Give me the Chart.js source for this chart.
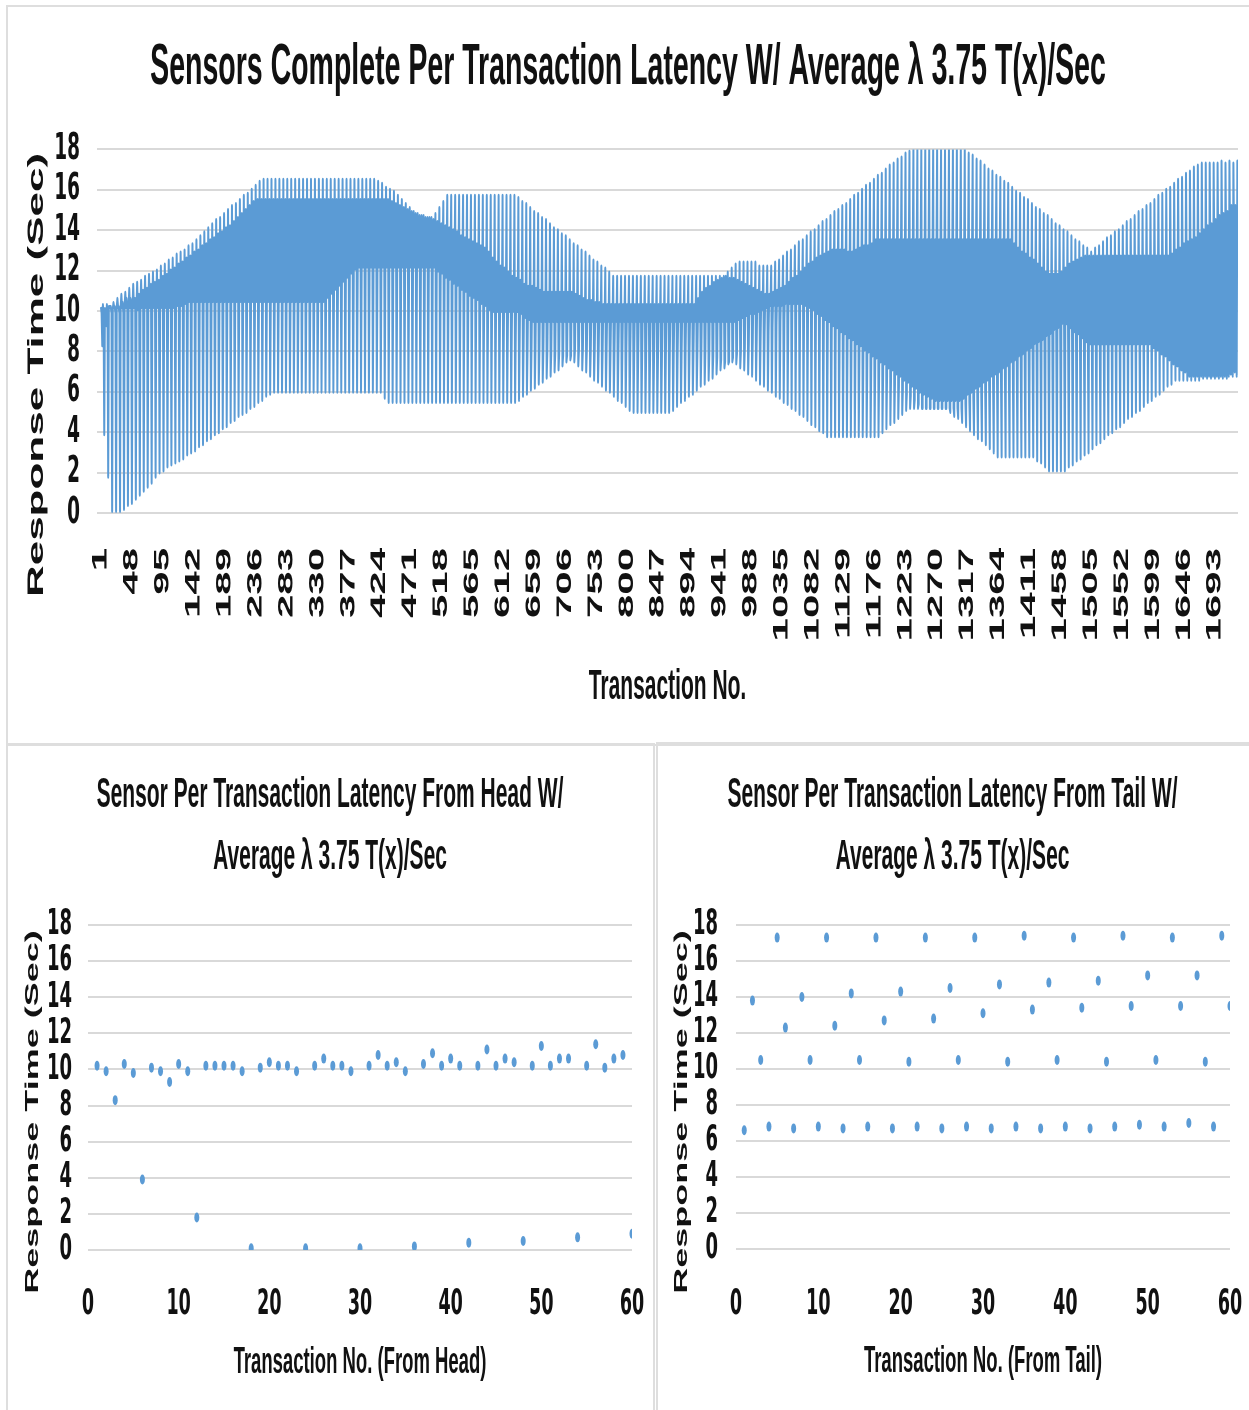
<!DOCTYPE html>
<html>
<head>
<meta charset="utf-8">
<title>Sensor transaction latency</title>
<script src="https://cdn.jsdelivr.net/npm/chart.js@4.4.1/dist/chart.umd.min.js"></script>
<style>
  html, body { margin: 0; padding: 0; background: #fff; overflow: hidden; }
  body { width: 1249px; height: 1410px; position: relative; }
  .frame { position: absolute; border: 2px solid #dedede; box-sizing: border-box; }
  .squeeze { position: absolute; transform: scaleX(0.5); transform-origin: 0 0; }
  canvas { display: block; }
</style>
</head>
<body>

<div class="frame" style="left:6px; top:5px; width:1260px; height:741px;"></div>
<div class="frame" style="left:6px; top:743px; width:649px; height:700px;"></div>
<div class="frame" style="left:656px; top:742px; width:620px; height:700px;"></div>

<div class="squeeze" style="left:7px; top:6px;"><canvas id="allChart" width="2484" height="738"></canvas></div>
<div class="squeeze" style="left:7px; top:744px;"><canvas id="headChart" width="1292" height="666"></canvas></div>
<div class="squeeze" style="left:656px; top:743px;"><canvas id="tailChart" width="1186" height="667"></canvas></div>

<script>
// Transactions come round-robin from six sensor slots, so the big chart
// is read as six per-cycle series (one value per 6 transactions each)

const sensor1 = [
  10.2, 10.1, 10.2, 10.1, 10.2, 10.2, 10.3, 10.2, 10.2, 10.2,
  10.2, 10.2, 10.2, 10.2, 10.2, 10.2, 10.2, 10.2, 10.2, 10.3,
  10.4, 10.4, 10.5, 10.5, 10.5, 10.5, 10.5, 10.5, 10.5, 10.5,
  10.5, 10.5, 10.5, 10.5, 10.5, 10.5, 10.5, 10.5, 10.5, 10.5,
  10.5, 10.5, 10.5, 10.5, 10.5, 10.5, 10.5, 10.5, 10.5, 10.5,
  10.5, 10.5, 10.5, 10.5, 10.5, 10.5, 10.5, 10.7, 10.8, 11.0,
  11.2, 11.3, 11.5, 11.7, 11.8, 12.0, 12.0, 12.0, 12.0, 12.0,
  12.0, 12.0, 12.0, 12.0, 12.0, 12.0, 12.0, 12.0, 12.0, 12.0,
  12.0, 12.0, 12.0, 12.0, 12.0, 11.8, 11.7, 11.5, 11.4, 11.2,
  11.1, 10.9, 10.8, 10.6, 10.4, 10.3, 10.1, 10.0, 9.8, 9.6,
  9.5, 9.3, 9.2, 9.0, 8.9, 8.7, 8.6, 8.4, 8.3, 8.2,
  8.2, 8.1, 8.1, 8.0, 8.0, 7.9, 7.9, 7.8, 7.8, 7.8,
  8.1, 8.1, 8.1, 8.1, 8.1, 8.1, 8.1, 8.1, 8.1, 8.1,
  8.1, 8.1, 8.1, 8.1, 8.1, 8.1, 7.9, 7.8, 7.7, 7.6,
  7.5, 7.5, 7.5, 7.7, 7.9, 8.0, 8.1, 8.1, 8.1, 8.1,
  8.1, 8.1, 8.1, 8.0, 7.9, 7.8, 7.7, 7.6, 7.5, 7.5,
  7.7, 7.9, 8.0, 8.2, 8.4, 8.5, 8.6, 8.8, 8.9, 9.0,
  9.2, 9.3, 9.5, 9.6, 9.8, 10.0, 10.2, 10.4, 10.2, 10.1,
  9.9, 9.8, 9.6, 9.4, 9.3, 9.1, 8.9, 8.8, 8.6, 8.4,
  8.3, 8.1, 7.9, 7.8, 7.6, 7.4, 7.3, 7.1, 6.9, 6.8,
  6.6, 6.4, 6.3, 6.1, 5.9, 5.8, 5.6, 5.4, 5.2, 5.2,
  5.2, 5.2, 5.2, 5.2, 5.2, 5.0, 4.8, 4.7, 4.5, 4.3,
  4.1, 3.9, 3.7, 3.6, 3.4, 3.2, 3.0, 2.8, 2.8, 2.8,
  2.8, 2.8, 2.8, 2.8, 2.8, 2.8, 2.8, 2.6, 2.5, 2.3,
  2.1, 2.1, 2.1, 2.1, 2.1, 2.3, 2.4, 2.6, 2.7, 2.9,
  3.0, 3.2, 3.4, 3.5, 3.7, 3.9, 4.0, 4.2, 4.3, 4.5,
  4.7, 4.8, 5.0, 5.1, 5.3, 5.5, 5.6, 5.8, 5.9, 6.1,
  6.3, 6.4, 6.6, 6.6, 6.6, 6.6, 6.6, 6.6, 6.6, 6.7,
  6.7, 6.7, 6.7, 6.7, 6.7, 6.7, 6.9, 7.0
];

const sensor2 = [
  9.9, 9.9, 10.2, 10.4, 10.6, 10.8, 10.9, 11.1, 11.3, 11.4,
  11.5, 11.7, 11.8, 11.9, 12.0, 12.2, 12.3, 12.5, 12.6, 12.8,
  12.9, 13.0, 13.2, 13.3, 13.5, 13.7, 13.9, 14.1, 14.3, 14.5,
  14.6, 14.8, 15.0, 15.2, 15.3, 15.5, 15.7, 15.8, 16.0, 16.2,
  16.4, 16.5, 16.5, 16.5, 16.5, 16.5, 16.5, 16.5, 16.5, 16.5,
  16.5, 16.5, 16.5, 16.5, 16.5, 16.5, 16.5, 16.5, 16.5, 16.5,
  16.5, 16.5, 16.5, 16.5, 16.5, 16.5, 16.5, 16.5, 16.5, 16.5,
  16.4, 16.3, 16.1, 16.0, 15.9, 15.7, 15.5, 15.3, 15.1, 14.9,
  14.8, 14.7, 14.6, 14.6, 14.5, 14.4, 14.3, 14.2, 14.1, 14.0,
  13.9, 13.7, 13.6, 13.5, 13.4, 13.3, 13.2, 13.1, 12.9, 12.6,
  12.4, 12.2, 12.1, 11.9, 11.7, 11.6, 11.5, 11.3, 11.2, 11.2,
  11.1, 11.0, 10.9, 10.9, 10.9, 10.9, 10.9, 10.9, 10.9, 10.9,
  10.8, 10.7, 10.6, 10.5, 10.5, 10.4, 10.4, 10.3, 10.3, 10.3,
  10.3, 10.3, 10.3, 10.3, 10.3, 10.3, 10.3, 10.3, 10.3, 10.3,
  10.3, 10.3, 10.3, 10.3, 10.3, 10.3, 10.3, 10.3, 10.3, 10.3,
  10.3, 10.6, 10.9, 11.1, 11.2, 11.4, 11.5, 11.6, 11.7, 11.6,
  11.6, 11.5, 11.4, 11.3, 11.2, 11.1, 11.0, 10.9, 10.8, 10.8,
  10.9, 11.0, 11.1, 11.2, 11.4, 11.6, 11.7, 11.9, 12.1, 12.3,
  12.4, 12.6, 12.7, 12.8, 12.9, 13.0, 13.0, 13.0, 13.0, 12.9,
  12.9, 13.0, 13.1, 13.2, 13.2, 13.3, 13.5, 13.5, 13.5, 13.5,
  13.5, 13.5, 13.5, 13.5, 13.5, 13.5, 13.5, 13.5, 13.5, 13.5,
  13.5, 13.5, 13.5, 13.5, 13.5, 13.5, 13.5, 13.5, 13.5, 13.5,
  13.5, 13.5, 13.5, 13.5, 13.5, 13.5, 13.5, 13.5, 13.5, 13.5,
  13.5, 13.3, 13.1, 12.9, 12.8, 12.6, 12.5, 12.3, 12.1, 11.9,
  11.8, 11.8, 11.8, 11.9, 12.1, 12.3, 12.4, 12.5, 12.6, 12.7,
  12.7, 12.7, 12.7, 12.7, 12.7, 12.7, 12.7, 12.7, 12.7, 12.7,
  12.7, 12.7, 12.7, 12.7, 12.7, 12.7, 12.7, 12.7, 12.7, 12.7,
  12.7, 12.8, 13.0, 13.1, 13.3, 13.4, 13.5, 13.6, 13.8, 14.0,
  14.2, 14.3, 14.5, 14.7, 14.8, 14.9, 15.2, 15.2
];

const sensor3 = [
  8.3, 9.3, 10.2, 10.2, 10.2, 10.2, 10.2, 10.2, 10.2, 10.1,
  10.2, 10.2, 10.2, 10.2, 10.2, 10.2, 10.2, 10.2, 10.2, 10.3,
  10.3, 10.4, 10.5, 10.5, 10.5, 10.5, 10.5, 10.5, 10.5, 10.5,
  10.5, 10.5, 10.5, 10.5, 10.5, 10.5, 10.5, 10.5, 10.5, 10.5,
  10.5, 10.5, 10.5, 10.5, 10.5, 10.5, 10.5, 10.5, 10.5, 10.5,
  10.5, 10.5, 10.5, 10.5, 10.5, 10.5, 10.5, 10.7, 10.9, 11.1,
  11.3, 11.5, 11.7, 11.9, 12.1, 12.2, 12.2, 12.2, 12.2, 12.2,
  12.2, 12.2, 12.2, 12.2, 12.2, 12.2, 12.2, 12.2, 12.2, 12.2,
  12.2, 12.2, 12.2, 12.2, 12.2, 12.0, 11.9, 11.7, 11.6, 11.4,
  11.3, 11.1, 11.0, 10.8, 10.7, 10.6, 10.4, 10.3, 10.1, 10.0,
  10.0, 10.0, 10.0, 10.0, 10.0, 10.0, 10.0, 10.0, 10.0, 10.0,
  10.0, 10.0, 10.0, 10.0, 10.0, 10.0, 10.0, 10.0, 10.0, 10.0,
  10.0, 10.0, 10.0, 10.0, 10.0, 10.0, 10.0, 10.0, 10.0, 10.0,
  10.0, 10.0, 10.0, 10.0, 10.0, 10.0, 10.0, 10.0, 10.0, 10.0,
  10.0, 10.0, 10.0, 10.0, 10.0, 10.0, 10.0, 10.0, 10.0, 10.0,
  10.0, 10.0, 10.0, 10.0, 10.0, 10.0, 10.0, 10.0, 10.0, 10.0,
  10.0, 10.0, 10.0, 10.1, 10.1, 10.1, 10.2, 10.2, 10.2, 10.3,
  10.3, 10.3, 10.3, 10.4, 10.4, 10.4, 10.4, 10.4, 10.3, 10.2,
  10.1, 9.9, 9.8, 9.6, 9.5, 9.3, 9.2, 9.0, 8.9, 8.7,
  8.6, 8.4, 8.3, 8.1, 8.0, 7.8, 7.7, 7.5, 7.4, 7.2,
  7.1, 6.9, 6.8, 6.6, 6.5, 6.3, 6.2, 6.0, 5.9, 5.8,
  5.7, 5.6, 5.6, 5.6, 5.6, 5.6, 5.6, 5.6, 5.7, 5.9,
  6.0, 6.2, 6.3, 6.5, 6.6, 6.8, 6.9, 7.0, 7.2, 7.3,
  7.5, 7.6, 7.8, 7.9, 8.1, 8.2, 8.4, 8.5, 8.6, 8.8,
  8.9, 9.1, 9.2, 9.4, 9.5, 9.7, 9.8, 10.0, 10.1, 10.3,
  10.4, 10.4, 10.4, 10.4, 10.4, 10.4, 10.4, 10.4, 10.4, 10.4,
  10.4, 10.4, 10.4, 10.4, 10.4, 10.4, 10.4, 10.4, 10.4, 10.4,
  10.4, 10.4, 10.4, 10.4, 10.4, 10.4, 10.4, 10.4, 10.5, 10.5,
  10.5, 10.4, 10.5, 10.4, 10.5, 10.4, 10.5, 10.4
];

const sensor4 = [
  10.3, 10.3, 10.2, 10.2, 10.2, 10.4, 10.6, 10.6, 10.6, 10.6,
  10.7, 10.8, 10.9, 11.0, 11.1, 11.2, 11.3, 11.4, 11.5, 11.6,
  11.7, 11.8, 11.9, 12.0, 12.1, 12.2, 12.3, 12.4, 12.5, 12.6,
  12.7, 12.8, 12.9, 13.0, 13.1, 13.2, 13.3, 13.3, 13.3, 13.3,
  13.3, 13.3, 13.3, 13.3, 13.3, 13.3, 13.3, 13.3, 13.3, 13.3,
  13.3, 13.3, 13.3, 13.3, 13.3, 13.3, 13.3, 13.3, 13.3, 13.3,
  13.3, 13.3, 13.3, 13.3, 13.3, 13.3, 13.3, 13.3, 13.3, 13.3,
  13.3, 13.3, 13.3, 13.3, 13.3, 13.3, 13.3, 13.3, 13.3, 13.3,
  13.3, 13.3, 13.3, 13.3, 13.3, 13.1, 13.0, 12.8, 12.7, 12.5,
  12.4, 12.2, 12.0, 11.9, 11.7, 11.6, 11.4, 11.3, 11.1, 10.9,
  10.8, 10.6, 10.5, 10.3, 10.2, 10.0, 9.9, 9.7, 9.6, 9.5,
  9.5, 9.5, 9.5, 9.5, 9.5, 9.5, 9.5, 9.5, 9.5, 9.5,
  9.5, 9.5, 9.5, 9.5, 9.5, 9.5, 9.5, 9.5, 9.5, 9.5,
  9.5, 9.5, 9.5, 9.5, 9.5, 9.5, 9.5, 9.5, 9.5, 9.5,
  9.5, 9.5, 9.5, 9.5, 9.5, 9.5, 9.5, 9.5, 9.5, 9.5,
  9.5, 9.5, 9.5, 9.5, 9.5, 9.5, 9.5, 9.5, 9.5, 9.5,
  9.5, 9.6, 9.7, 9.8, 9.9, 9.9, 10.0, 10.1, 10.2, 10.3,
  10.4, 10.5, 10.6, 10.7, 10.8, 10.8, 10.9, 11.0, 11.1, 11.2,
  11.3, 11.4, 11.4, 11.5, 11.6, 11.7, 11.8, 11.9, 12.0, 12.0,
  12.1, 12.2, 12.3, 12.4, 12.5, 12.5, 12.6, 12.7, 12.8, 12.8,
  12.8, 12.8, 12.8, 12.8, 12.8, 12.8, 12.8, 12.8, 12.8, 12.8,
  12.8, 12.8, 12.8, 12.8, 12.8, 12.8, 12.8, 12.8, 12.8, 12.8,
  12.8, 12.8, 12.8, 12.8, 12.8, 12.8, 12.6, 12.4, 12.3, 12.1,
  11.9, 11.7, 11.6, 11.4, 11.2, 11.0, 10.8, 10.7, 10.5, 10.3,
  10.1, 9.9, 9.8, 9.6, 9.4, 9.2, 9.0, 8.9, 8.7, 8.5,
  8.4, 8.4, 8.4, 8.4, 8.4, 8.4, 8.4, 8.4, 8.4, 8.4,
  8.4, 8.4, 8.4, 8.4, 8.4, 8.4, 8.2, 8.1, 7.9, 7.8,
  7.6, 7.4, 7.3, 7.1, 7.0, 6.8, 6.8, 6.8, 6.8, 6.8,
  6.8, 6.8, 6.8, 6.8, 6.8, 6.8, 6.8, 6.8
];

const sensor5 = [
  9.8, 9.9, 9.9, 9.9, 9.9, 9.9, 10.2, 10.4, 10.6, 10.8,
  11.0, 11.1, 11.3, 11.4, 11.5, 11.7, 11.8, 12.0, 12.1, 12.3,
  12.4, 12.6, 12.7, 12.9, 13.0, 13.2, 13.3, 13.5, 13.6, 13.8,
  13.9, 14.1, 14.2, 14.4, 14.6, 14.8, 15.0, 15.2, 15.4, 15.5,
  15.5, 15.5, 15.5, 15.5, 15.5, 15.5, 15.5, 15.5, 15.5, 15.5,
  15.5, 15.5, 15.5, 15.5, 15.5, 15.5, 15.5, 15.5, 15.5, 15.5,
  15.5, 15.5, 15.5, 15.5, 15.5, 15.5, 15.5, 15.5, 15.5, 15.5,
  15.5, 15.5, 15.5, 15.4, 15.3, 15.2, 15.1, 15.0, 14.9, 14.8,
  14.7, 14.7, 14.6, 14.6, 14.8, 15.1, 15.4, 15.7, 15.7, 15.7,
  15.7, 15.7, 15.7, 15.7, 15.7, 15.7, 15.7, 15.7, 15.7, 15.7,
  15.7, 15.7, 15.7, 15.7, 15.7, 15.6, 15.4, 15.3, 15.1, 14.9,
  14.8, 14.6, 14.5, 14.3, 14.1, 14.0, 13.8, 13.7, 13.5, 13.3,
  13.2, 13.0, 12.9, 12.7, 12.5, 12.4, 12.2, 12.1, 11.9, 11.7,
  11.7, 11.7, 11.7, 11.7, 11.7, 11.7, 11.7, 11.7, 11.7, 11.7,
  11.7, 11.7, 11.7, 11.7, 11.7, 11.7, 11.7, 11.7, 11.7, 11.7,
  11.7, 11.7, 11.7, 11.7, 11.7, 11.7, 11.7, 11.7, 11.9, 12.1,
  12.3, 12.4, 12.4, 12.4, 12.4, 12.4, 12.2, 12.2, 12.2, 12.2,
  12.4, 12.5, 12.7, 12.9, 13.0, 13.2, 13.4, 13.5, 13.7, 13.9,
  14.0, 14.2, 14.4, 14.5, 14.7, 14.9, 15.0, 15.2, 15.3, 15.5,
  15.7, 15.8, 16.0, 16.2, 16.3, 16.5, 16.7, 16.8, 17.0, 17.2,
  17.3, 17.5, 17.6, 17.8, 17.9, 18.0, 18.0, 18.0, 18.0, 18.0,
  18.0, 18.0, 18.0, 18.0, 18.0, 18.0, 18.0, 18.0, 18.0, 17.8,
  17.7, 17.5, 17.4, 17.2, 17.0, 16.9, 16.7, 16.6, 16.4, 16.3,
  16.1, 15.9, 15.8, 15.6, 15.5, 15.3, 15.1, 15.0, 14.8, 14.7,
  14.5, 14.3, 14.2, 14.0, 13.9, 13.7, 13.5, 13.4, 13.2, 13.1,
  12.9, 13.1, 13.2, 13.4, 13.6, 13.7, 13.9, 14.0, 14.2, 14.4,
  14.5, 14.7, 14.9, 15.0, 15.2, 15.3, 15.5, 15.7, 15.8, 16.0,
  16.1, 16.3, 16.5, 16.6, 16.8, 16.9, 17.1, 17.2, 17.3, 17.3,
  17.3, 17.3, 17.3, 17.4, 17.3, 17.4, 17.3, 17.4
];

const sensor6 = [
  3.9, 1.8, 0.1, 0.1, 0.1, 0.2, 0.4, 0.5, 0.7, 0.9,
  1.1, 1.3, 1.5, 1.8, 2.0, 2.1, 2.3, 2.4, 2.5, 2.6,
  2.7, 2.9, 3.0, 3.1, 3.3, 3.4, 3.6, 3.7, 3.9, 4.0,
  4.2, 4.3, 4.5, 4.6, 4.8, 4.9, 5.0, 5.2, 5.3, 5.5,
  5.6, 5.8, 5.9, 6.0, 6.0, 6.0, 6.0, 6.0, 6.0, 6.0,
  6.0, 6.0, 6.0, 6.0, 6.0, 6.0, 6.0, 6.0, 6.0, 6.0,
  6.0, 6.0, 6.0, 6.0, 6.0, 6.0, 6.0, 6.0, 6.0, 6.0,
  6.0, 5.7, 5.5, 5.5, 5.5, 5.5, 5.5, 5.5, 5.5, 5.5,
  5.5, 5.5, 5.5, 5.5, 5.5, 5.5, 5.5, 5.5, 5.5, 5.5,
  5.5, 5.5, 5.5, 5.5, 5.5, 5.5, 5.5, 5.5, 5.5, 5.5,
  5.5, 5.5, 5.5, 5.5, 5.5, 5.6, 5.8, 5.9, 6.1, 6.2,
  6.4, 6.5, 6.7, 6.8, 7.0, 7.1, 7.3, 7.5, 7.6, 7.5,
  7.3, 7.1, 7.0, 6.8, 6.6, 6.5, 6.3, 6.1, 6.0, 5.8,
  5.6, 5.5, 5.3, 5.1, 5.0, 5.0, 5.0, 5.0, 5.0, 5.0,
  5.0, 5.0, 5.0, 5.0, 5.1, 5.3, 5.5, 5.6, 5.8, 5.9,
  6.1, 6.3, 6.4, 6.6, 6.7, 6.9, 7.1, 7.2, 7.4, 7.5,
  7.4, 7.2, 7.1, 6.9, 6.8, 6.6, 6.4, 6.3, 6.1, 6.0,
  5.8, 5.7, 5.5, 5.4, 5.2, 5.1, 4.9, 4.8, 4.6, 4.4,
  4.3, 4.1, 4.0, 3.8, 3.8, 3.8, 3.8, 3.8, 3.8, 3.8,
  3.8, 3.8, 3.8, 3.8, 3.8, 3.8, 3.8, 4.0, 4.2, 4.4,
  4.5, 4.7, 4.9, 5.1, 5.2, 5.2, 5.2, 5.2, 5.2, 5.2,
  5.2, 5.2, 5.2, 5.2, 5.2, 5.2, 5.2, 5.2, 5.4, 5.5,
  5.7, 5.8, 6.0, 6.1, 6.3, 6.4, 6.6, 6.7, 6.9, 7.0,
  7.2, 7.3, 7.5, 7.6, 7.8, 7.9, 8.1, 8.2, 8.4, 8.4,
  8.4, 8.4, 8.4, 8.4, 8.4, 8.4, 8.4, 8.4, 8.4, 8.4,
  8.4, 8.5, 8.7, 8.8, 9.0, 9.2, 9.3, 9.5, 9.6, 9.8,
  10.0, 10.1, 10.3, 10.4, 10.6, 10.8, 10.9, 11.1, 11.2, 11.4,
  11.6, 11.7, 11.9, 12.0, 12.2, 12.2, 12.2, 12.2, 12.3, 12.4,
  12.7, 12.8, 13.1, 13.3, 13.4, 13.5, 13.5, 13.5
];

// first 60 and last 60 transactions
const headLatency = [
  10.2, 9.9, 8.3, 10.3, 9.8, 3.9, 10.1, 9.9, 9.3, 10.3, 9.9, 1.8,
  10.2, 10.2, 10.2, 10.2, 9.9, 0.1, 10.1, 10.4, 10.2, 10.2, 9.9, 0.1,
  10.2, 10.6, 10.2, 10.2, 9.9, 0.1, 10.2, 10.8, 10.2, 10.4, 9.9, 0.2,
  10.3, 10.9, 10.2, 10.6, 10.2, 0.4, 10.2, 11.1, 10.2, 10.6, 10.4, 0.5,
  10.2, 11.3, 10.2, 10.6, 10.6, 0.7, 10.2, 11.4, 10.1, 10.6, 10.8, 0.9
];

const tailLatency = [
  6.6, 13.8, 10.5, 6.8, 17.3, 12.3, 6.7, 14.0, 10.5, 6.8, 17.3, 12.4,
  6.7, 14.2, 10.5, 6.8, 17.3, 12.7, 6.7, 14.3, 10.4, 6.8, 17.3, 12.8,
  6.7, 14.5, 10.5, 6.8, 17.3, 13.1, 6.7, 14.7, 10.4, 6.8, 17.4, 13.3,
  6.7, 14.8, 10.5, 6.8, 17.3, 13.4, 6.7, 14.9, 10.4, 6.8, 17.4, 13.5,
  6.9, 15.2, 10.5, 6.8, 17.3, 13.5, 7.0, 15.2, 10.4, 6.8, 17.4, 13.5
];

// tick labels
const txTicks = [1, 48, 95, 142, 189, 236, 283, 330, 377, 424, 471, 518, 565,
  612, 659, 706, 753, 800, 847, 894, 941, 988, 1035, 1082, 1129, 1176, 1223,
  1270, 1317, 1364, 1411, 1458, 1505, 1552, 1599, 1646, 1693];
const latencyTicks = [0, 2, 4, 6, 8, 10, 12, 14, 16, 18];
const sideTicks = [0, 10, 20, 30, 40, 50, 60];


const BLUE = '#5b9bd5';
const GRID = '#d9d9d9';
const INK = '#111';
const SANS = '"Liberation Sans", Arial, sans-serif';
const DEJAVU = '"DejaVu Sans", sans-serif';

Chart.defaults.font.family = SANS;
Chart.defaults.color = INK;
Chart.defaults.animation = false;

// rotated y axis title, placed where Excel puts it
const sideTitle = {
  id: 'sideTitle',
  afterDraw(chart, args, opts) {
    const ctx = chart.ctx;
    ctx.save();
    ctx.translate(opts.x, opts.y);
    ctx.rotate(-Math.PI / 2);
    ctx.font = opts.font;
    ctx.fillStyle = INK;
    ctx.textAlign = 'center';
    ctx.textBaseline = 'middle';
    ctx.fillText(opts.text, 0, 0);
    ctx.restore();
  }
};

const useTicks = list => scale => { scale.ticks = list.map(v => ({ value: v })); };
const bottomAxis = h => scale => {
  scale.height = h;
  scale.paddingLeft = 0;
  scale.paddingRight = 0;
};


// Interleave the six slots back into transaction order

const slots = [sensor1, sensor2, sensor3, sensor4, sensor5, sensor6];
const allSeries = [];
sensor1.forEach((_, cycle) => {
  slots.forEach((slot, k) => {
    allSeries.push({ x: cycle * 6 + k + 1, y: slot[cycle] });
  });
});


// Complete per transaction latency

new Chart(document.getElementById('allChart'), {
  type: 'line',
  data: {
    datasets: [{
      data: allSeries,
      borderColor: BLUE,
      borderWidth: 4,
      borderJoinStyle: 'round',
      pointRadius: 0,
      tension: 0,
      fill: false
    }]
  },
  options: {
    responsive: false,
    parsing: false,
    normalized: true,
    layout: { padding: { left: 22, right: 22, top: 0, bottom: 0 } },
    plugins: {
      legend: { display: false },
      tooltip: { enabled: false },
      title: {
        display: true,
        text: 'Sensors Complete Per Transaction Latency W/ Average λ 3.75 T(x)/Sec',
        color: INK,
        font: { size: 57, weight: 'bold' },
        padding: { top: 28, bottom: 47 }
      },
      sideTitle: { text: 'Response Time (Sec)', x: 60, y: 369, font: 'bold 44px ' + SANS }
    },
    scales: {
      x: {
        type: 'linear',
        min: -5,
        max: 1728,
        afterBuildTicks: useTicks(txTicks),
        afterFit: bottomAxis(231),
        grid: { display: false, drawTicks: false },
        border: { display: false },
        ticks: {
          autoSkip: false,
          minRotation: 90,
          maxRotation: 90,
          padding: 35,
          color: INK,
          font: { size: 42, weight: 'bold' },
          callback: v => String(v)
        },
        title: {
          display: true,
          text: 'Transaction No.',
          color: INK,
          font: { size: 42, weight: 'bold' },
          padding: { top: 0, bottom: 31 }
        }
      },
      y: {
        min: 0,
        max: 18,
        afterBuildTicks: useTicks(latencyTicks),
        afterFit: s => { s.width = 158; },
        grid: { color: GRID, lineWidth: 2, drawTicks: false },
        border: { display: false },
        ticks: { autoSkip: false, padding: 34, color: INK, font: { family: DEJAVU, size: 37, weight: 'bold' } }
      }
    }
  },
  plugins: [sideTitle]
});


// Head / tail scatter charts

function latencyScatter(canvasId, values, heading, axisName, fit) {
  new Chart(document.getElementById(canvasId), {
    type: 'scatter',
    data: {
      datasets: [{
        data: values.map((y, i) => ({ x: i + 1, y: y })),
        backgroundColor: BLUE,
        borderWidth: 0,
        pointRadius: 5
      }]
    },
    options: {
      responsive: false,
      layout: { padding: { left: fit.side, right: fit.side, top: 0, bottom: 0 } },
      plugins: {
        legend: { display: false },
        tooltip: { enabled: false },
        title: {
          display: true,
          text: heading,
          color: INK,
          font: { size: 42, weight: 'bold', lineHeight: '62px' },
          padding: { top: fit.titleTop, bottom: 37 }
        },
        sideTitle: { text: 'Response Time (Sec)', x: 52, y: fit.sideY, font: 'bold 36px ' + SANS }
      },
      scales: {
        x: {
          min: 0,
          max: 60,
          afterBuildTicks: useTicks(sideTicks),
          afterFit: bottomAxis(fit.xHeight),
          grid: { display: false, drawTicks: false },
          border: { display: false },
          ticks: { autoSkip: false, padding: fit.xPad, color: INK, font: { family: DEJAVU, size: 35, weight: 'bold' } },
          title: {
            display: true,
            text: axisName,
            color: INK,
            font: { size: 37, weight: 'bold' },
            padding: { top: 0, bottom: fit.xTitleBottom }
          }
        },
        y: {
          min: 0,
          max: 18,
          afterBuildTicks: useTicks(latencyTicks),
          afterFit: s => { s.width = fit.yWidth; },
          grid: { color: GRID, lineWidth: 2, drawTicks: false },
          border: { display: false },
          ticks: { autoSkip: false, padding: fit.yPad, color: INK, font: { family: DEJAVU, size: 36, weight: 'bold' } }
        }
      }
    },
    plugins: [sideTitle]
  });
}

latencyScatter('headChart', headLatency,
  ['Sensor Per Transaction Latency From Head W/', 'Average λ 3.75 T(x)/Sec'],
  'Transaction No. (From Head)',
  { side: 42, titleTop: 20, sideY: 368, xHeight: 160, xPad: 34, xTitleBottom: 25, yWidth: 120, yPad: 32 });

latencyScatter('tailChart', tailLatency,
  ['Sensor Per Transaction Latency From Tail W/', 'Average λ 3.75 T(x)/Sec'],
  'Transaction No. (From Tail)',
  { side: 38, titleTop: 21, sideY: 369, xHeight: 161, xPad: 35, xTitleBottom: 26, yWidth: 122, yPad: 36 });
</script>
</body>
</html>
